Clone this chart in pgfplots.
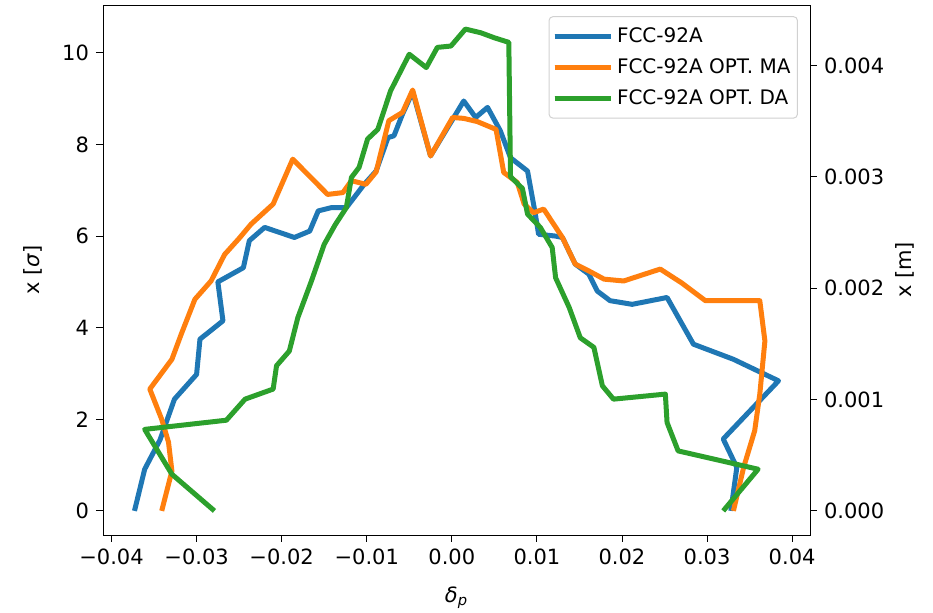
\documentclass[border=0pt]{standalone}
\usepackage{fontspec}
\setmainfont{DejaVu Sans}
\usepackage{pgfplots}
\pgfplotsset{compat=1.18}
\definecolor{c0}{HTML}{1F77B4}
\definecolor{c1}{HTML}{FF7F0E}
\definecolor{c2}{HTML}{2CA02C}
\begin{document}
\begin{tikzpicture}
\path[use as bounding box] (-51.5pt,-39pt) rectangle (415pt,267.5pt);
\begin{axis}[
  at={(0,0)}, anchor=south west,
  scale only axis, width=353.5pt, height=265pt,
  xmin=-0.0410, xmax=0.0421, ymin=-0.526, ymax=11.046,
  scaled x ticks=false, scaled y ticks=false,
  xtick={-0.04,-0.03,-0.02,-0.01,0,0.01,0.02,0.03,0.04},
  xticklabels={−0.04,−0.03,−0.02,−0.01,0.00,0.01,0.02,0.03,0.04},
  ytick={0,2,4,6,8,10},
  yticklabels={0,2,4,6,8,10},
  tick align=outside, xtick pos=bottom, ytick pos=left,
  major tick length=3.5pt,
  tick style={black, line width=0.45pt},
  axis line style={line width=0.45pt},
  ticklabel style={font=\fontsize{10.5}{12}\selectfont},
  xlabel={\textit{δ}\textsubscript{\textit{p}}},
  ylabel={x [\textit{σ}]},
  label style={font=\fontsize{10.5}{12}\selectfont},
  xlabel style={at={(axis description cs:0.5,-0.119)}, anchor=center},
  ylabel style={at={(axis description cs:-0.099,0.5)}, anchor=center, rotate=0},
  legend cell align=left,
  legend image code/.code={\draw[#1] (0pt,0pt) -- (24pt,0pt); \path (0pt,0pt) -- (28pt,0pt);},
  legend style={at={(axis description cs:0.983,0.979)}, anchor=north east,
    draw=black!18, rounded corners=2pt, line width=0.5pt,
    font=\fontsize{10}{12}\selectfont, inner xsep=1.5pt, inner ysep=3.5pt,
    row sep=2.5pt},
  every axis plot/.append style={line width=2.5pt, line join=round},
]
\addplot[c0] coordinates {
(-0.0373,0) (-0.0361,0.91) (-0.0343,1.55) (-0.0326,2.44) (-0.0300,2.98)
(-0.0296,3.75) (-0.0269,4.15) (-0.0275,5.00) (-0.0245,5.31) (-0.0238,5.90)
(-0.0220,6.19) (-0.0185,5.97) (-0.0167,6.11) (-0.0157,6.55) (-0.0142,6.62)
(-0.0124,6.62) (-0.0103,7.13) (-0.0089,7.42) (-0.0075,8.15) (-0.0068,8.19)
(-0.0058,8.66) (-0.0046,9.15) (-0.0025,7.75) (0.0001,8.55) (0.0014,8.95)
(0.0028,8.59) (0.0042,8.81) (0.0057,8.30) (0.0069,7.71) (0.0089,7.42)
(0.0098,6.50) (0.0102,6.04) (0.0122,6.00) (0.0130,5.97) (0.0145,5.39)
(0.0161,5.17) (0.0171,4.80) (0.0186,4.59) (0.0212,4.51) (0.0253,4.66)
(0.0284,3.64) (0.0331,3.31) (0.0384,2.84) (0.0319,1.57) (0.0335,0.95)
(0.0328,0)
};
\addlegendentry{FCC-92A}
\addplot[c1] coordinates {
(-0.0341,0) (-0.0329,0.87) (-0.0333,1.50) (-0.0341,2.00) (-0.0355,2.66)
(-0.0329,3.31) (-0.0318,3.86) (-0.0302,4.62) (-0.0283,5.02) (-0.0267,5.60)
(-0.0250,5.95) (-0.0236,6.26) (-0.0210,6.70) (-0.0187,7.68) (-0.0146,6.91)
(-0.0128,6.95) (-0.0118,7.21) (-0.0101,7.13) (-0.0089,7.40) (-0.0074,8.52)
(-0.0058,8.70) (-0.0046,9.19) (-0.0025,7.75) (0.0001,8.59) (0.0014,8.57)
(0.0030,8.50) (0.0052,8.33) (0.0061,7.39) (0.0077,7.17) (0.0085,6.70)
(0.0096,6.51) (0.0108,6.59) (0.0130,5.97) (0.0145,5.39) (0.0161,5.24)
(0.0179,5.06) (0.0202,5.02) (0.0245,5.28) (0.0270,4.98) (0.0298,4.59)
(0.0362,4.59) (0.0368,3.71) (0.0362,2.55) (0.0356,1.75) (0.0343,0.95)
(0.0331,0)
};
\addlegendentry{FCC-92A OPT. MA}
\addplot[c2] coordinates {
(-0.0279,0) (-0.0329,0.80) (-0.0361,1.78) (-0.0265,1.98) (-0.0243,2.44)
(-0.0210,2.66) (-0.0206,3.17) (-0.0191,3.49) (-0.0181,4.22) (-0.0165,5.02)
(-0.0150,5.82) (-0.0137,6.25) (-0.0124,6.62) (-0.0118,7.28) (-0.0109,7.50)
(-0.0099,8.12) (-0.0087,8.33) (-0.0072,9.17) (-0.0050,9.97) (-0.0030,9.68)
(-0.0017,10.12) (-0.0001,10.15) (0.0016,10.52) (0.0034,10.44) (0.0050,10.33)
(0.0067,10.23) (0.0069,7.30) (0.0083,7.04) (0.0089,6.48) (0.0104,6.19)
(0.0118,5.75) (0.0122,5.09) (0.0138,4.44) (0.0151,3.78) (0.0167,3.57)
(0.0177,2.73) (0.0190,2.44) (0.0251,2.55) (0.0253,1.93) (0.0266,1.31)
(0.0360,0.91) (0.0319,0)
};
\addlegendentry{FCC-92A OPT. DA}
\end{axis}
\begin{axis}[
  at={(0,0)}, anchor=south west,
  scale only axis, width=353.5pt, height=265pt,
  xmin=-0.0410, xmax=0.0421, ymin=-0.0002163, ymax=0.004542,
  scaled x ticks=false, scaled y ticks=false,
  axis x line=none, axis y line*=right,
  ytick={0,0.001,0.002,0.003,0.004},
  yticklabels={0.000,0.001,0.002,0.003,0.004},
  tick align=outside,
  major tick length=3.5pt,
  tick style={black, line width=0.45pt},
  axis line style={line width=0.45pt, -},
  ticklabel style={font=\fontsize{10.5}{12}\selectfont},
  ylabel={x [m]},
  label style={font=\fontsize{10.5}{12}\selectfont},
  ylabel style={at={(axis description cs:1.134,0.5)}, anchor=center, rotate=0},
]
\addplot[draw=none] coordinates {(0,0)};
\end{axis}
\end{tikzpicture}
\end{document}
